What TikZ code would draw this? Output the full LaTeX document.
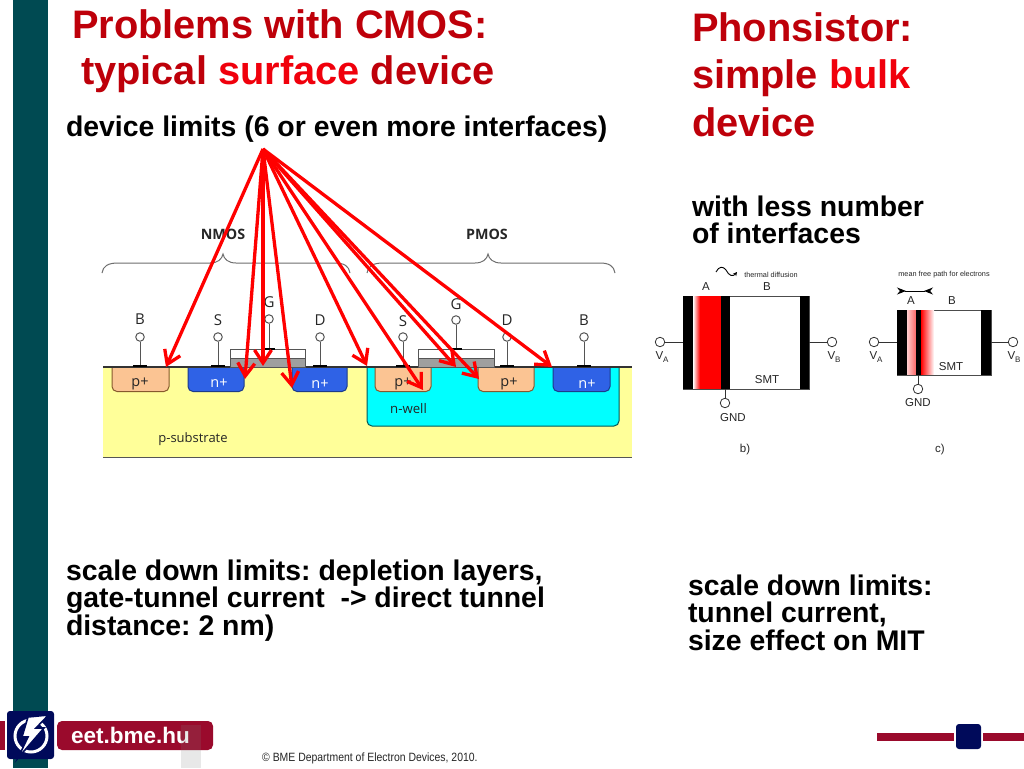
\documentclass[tikz,border=0pt]{standalone}
\usepackage{fontspec}
\setmainfont{Liberation Sans}
\newfontfamily\cmosfont{Open Sans}
\usetikzlibrary{arrows.meta}
\frenchspacing
\definecolor{titlered}{HTML}{BE000A}
\definecolor{hotred}{HTML}{F0000C}
\definecolor{sidebar}{HTML}{004A52}
\definecolor{logonavy}{HTML}{000A5A}
\definecolor{barred}{HTML}{9A0A2C}
\definecolor{substrate}{HTML}{FFFF99}
\definecolor{pplus}{HTML}{FBC493}
\definecolor{nplus}{HTML}{2F62E6}
\definecolor{nwell}{HTML}{00FFFF}
\definecolor{edgegrey}{HTML}{555555}
\newcommand{\pxfont}[1]{\fontsize{#1}{#1}\selectfont}
\newcommand{\lowsub}[1]{\raisebox{-2.4pt}{\pxfont{8}#1}}
\tikzset{
 x=1pt,y=-1pt,
 txt/.style={anchor=base west,inner sep=0pt,outer sep=0pt,align=left},
 titletxt/.style={txt,font=\bfseries\pxfont{39.8},text=titlered},
 bodytxt/.style={txt,font=\bfseries\pxfont{28.4},text=black},
 region/.style={draw=#1,line width=1pt,rounded corners=5pt},
 clabel/.style={inner sep=0pt,font=\cmosfont\pxfont{15},text=black!85},
 rlabel/.style={anchor=base,inner sep=0pt,font=\cmosfont\pxfont{14.5},text=black!85},
 term/.style={circle,draw=edgegrey,fill=white,line width=1pt,minimum size=8.5pt,inner sep=0pt},
 wire/.style={draw=edgegrey,line width=1pt},
 contact/.style={fill=black},
 brace/.style={draw=edgegrey!85,line width=1pt},
 redarrow/.style={draw=red,line width=3.3pt,-{Straight Barb[length=13pt,width=17pt,line width=3.3pt]}},
 dlabel/.style={inner sep=0pt,font=\pxfont{11.5},text=black!85},
 tinylabel/.style={inner sep=0pt,font=\pxfont{7.3},text=black!85},
 dterm/.style={circle,draw=black!80,fill=white,line width=.8pt,minimum size=9.5pt,inner sep=0pt},
 dwire/.style={draw=black!80,line width=.8pt},
}
\begin{document}
\begin{tikzpicture}
\useasboundingbox (0,0) rectangle (1024,768);
\fill[white] (0,0) rectangle (1024,768);
% sidebar
\fill[sidebar] (13,0) rectangle (48,768);
% titles
\node[titletxt] (t1) at (72,38.5) {Problems with CMOS:};
\node[titletxt] (t2) at (81,84) {typical \textcolor{hotred}{surface} device};
\node[bodytxt] (t3) at (66,136) {device limits (6 or even more interfaces)};
\node[titletxt] (r1) at (692,41.5) {Phonsistor:};
\node[titletxt] (r2) at (692,88) {simple \textcolor{hotred}{bulk}};
\node[titletxt] (r3) at (692,136) {device};
\node[bodytxt] (r4) at (692,216) {with less number};
\node[bodytxt] (r5) at (692,243) {of interfaces};
\node[bodytxt] (b1) at (66,580) {scale down limits: depletion layers,};
\node[bodytxt] (b2) at (66,607) {gate-tunnel current\ \ -> direct tunnel};
\node[bodytxt] (b3) at (66,635) {distance: 2 nm)};
\node[bodytxt] (b4) at (688,595) {scale down limits:};
\node[bodytxt] (b5) at (688,622) {tunnel current,};
\node[bodytxt] (b6) at (688,650) {size effect on MIT};
% CMOS cross-section
\fill[substrate] (103,367) rectangle (632,457);
\draw[edgegrey,line width=1.4pt] (103,457.5) -- (632,457.5);
\draw[region=teal!70!black,fill=nwell] (367,367) -- (367,426) -- (619,426) -- (619,367);
\draw[region=brown!70!black,fill=pplus] (112,367) -- (112,391.5) -- (169,391.5) -- (169,367);
\draw[region=nplus!60!black,fill=nplus] (188,367) -- (188,391.5) -- (244,391.5) -- (244,367);
\draw[region=nplus!60!black,fill=nplus] (292,367) -- (292,391.5) -- (347,391.5) -- (347,367);
\draw[region=brown!70!black,fill=pplus] (375,367) -- (375,391.5) -- (431,391.5) -- (431,367);
\draw[region=brown!70!black,fill=pplus] (478,367) -- (478,391.5) -- (534,391.5) -- (534,367);
\draw[region=nplus!60!black,fill=nplus] (553,367) -- (553,391.5) -- (610,391.5) -- (610,367);
\draw[black!80,line width=1.4pt] (103,367) -- (632,367);
% gates
\draw[edgegrey,line width=1pt,fill=white] (230,349.5) rectangle (305,358);
\draw[edgegrey,line width=1pt,fill=gray!75] (230,358) rectangle (305,367);
\draw[edgegrey,line width=1pt,fill=white] (418.5,349.5) rectangle (494,358);
\draw[edgegrey,line width=1pt,fill=gray!75] (418.5,358) rectangle (494,367);
% terminals
\foreach \nm/\xx/\yy/\ly/\tx in {nb/140/337/319/B,ns/218/337/320/S,ng/269/319/302/G,nd/320/337/320/D,ps/403/337/321/S,pg/456/320/304/G,pd/507/337/320/D,pb/584/337/320/B}{
 \node[term] (\nm) at (\xx,\yy) {};
 \node[clabel] (\nm l) at (\xx,\ly) {\tx};
}
\foreach \nm in {nb,ns,nd,ps,pd,pb}{
 \coordinate (\nm c) at (\nm |- 0,365);
 \draw[wire] (\nm) -- (\nm c);
 \fill[contact] ([xshift=-7pt]\nm c) rectangle ([shift={(7pt,-2pt)}]\nm c);
}
\foreach \nm in {ng,pg}{
 \coordinate (\nm c) at (\nm |- 0,348);
 \draw[wire] (\nm) -- (\nm c);
 \fill[contact] ([xshift=-5.5pt]\nm c) rectangle ([shift={(5.5pt,-1.8pt)}]\nm c);
}
% region labels
\node[rlabel,text=white] (npn1) at (219,387) {n+};
\node[rlabel,text=white] (npn2) at (320,388) {n+};
\node[rlabel,text=white] (npn3) at (587,388) {n+};
\node[rlabel] (ppn1) at (140,386) {p+};
\node[rlabel] (ppn2) at (403,386) {p+};
\node[rlabel] (ppn3) at (509,386) {p+};
\node[rlabel,font=\cmosfont\pxfont{13.2}] (well) at (408.5,413) {n-well};
\node[rlabel,font=\cmosfont\pxfont{13}] (subs) at (193,442) {p-substrate};
\node[clabel,font=\cmosfont\bfseries\pxfont{14.3}] (nmos) at (223,234) {NMOS};
\node[clabel,font=\cmosfont\bfseries\pxfont{14.3}] (pmos) at (487,234) {PMOS};
% braces
\draw[brace] (102,273) .. controls (103,266) and (108,263) .. (118,263) -- (210,263) .. controls (218,263) and (222,259) .. (223,254) .. controls (224,259) and (228,263) .. (236,263) -- (335,263) .. controls (344,263) and (349,266) .. (350,273);
\draw[brace] (367,273) .. controls (368,266) and (373,263) .. (383,263) -- (475,263) .. controls (483,263) and (487,259) .. (488,254) .. controls (489,259) and (493,263) .. (501,263) -- (600,263) .. controls (609,263) and (614,266) .. (615,273);
% red arrows
\coordinate (src) at (263,149);
\coordinate (e1) at (166,367);
\coordinate (e2) at (245,379);
\coordinate (e3) at (263,366);
\coordinate (e4) at (292,388);
\coordinate (e5) at (367,366);
\coordinate (e6) at (423,390);
\coordinate (e7) at (456,367);
\coordinate (e8) at (479,379);
\coordinate (e9) at (552,367);
\foreach \i in {1,...,9}{\draw[redarrow] (src) -- (e\i);}
% device b
\draw[black!70,line width=.8pt] (683,296) rectangle (809,389);
\fill[black] (683,296) rectangle (693,389);
\shade[left color=white,right color=red] (693,296.4) rectangle (700,388.6);
\fill[red] (700,296.4) rectangle (721,388.6);
\fill[black] (721,296) rectangle (730,389);
\fill[black] (800,296) rectangle (809,389);
\node[dterm] (bva) at (660,342) {};
\node[dterm] (bvb) at (832,342) {};
\node[dterm] (bgnd) at (725,403) {};
\coordinate (bl) at (683,342);
\coordinate (br) at (809,342);
\coordinate (bg) at (725,389);
\draw[dwire] (bva) -- (bl);
\draw[dwire] (bvb) -- (br);
\draw[dwire] (bgnd) -- (bg);
\node[dlabel] (bA) at (706,287) {A};
\node[dlabel] (bB) at (767,287) {B};
\node[dlabel] (bS) at (767,380) {SMT};
\node[dlabel] (bVA) at (662,357) {V\lowsub{A}};
\node[dlabel] (bVB) at (834,357) {V\lowsub{B}};
\node[dlabel] (bG) at (733,418) {GND};
\node[dlabel] (bcap) at (745,450) {b)};
\node[tinylabel] (btxt) at (771,274.5) {thermal diffusion};
\draw[black,line width=.9pt,-{Stealth[length=4pt,width=4pt]}] (716,272) .. controls (719,266) and (723,266) .. (726,270) .. controls (729,276) and (733,277) .. (737,272);
% device c
\draw[black!70,line width=.8pt] (897,310) rectangle (991,375);
\fill[black] (897,310) rectangle (907,375);
\shade[left color=red!20,right color=red!60] (907,310.4) rectangle (916,374.6);
\fill[black] (916,310) rectangle (921,375);
\shade[left color=red,right color=white] (921,310.4) rectangle (934,374.6);
\fill[black] (981,310) rectangle (991,375);
\node[dterm] (cva) at (874,342) {};
\node[dterm] (cvb) at (1013,342) {};
\node[dterm] (cgnd) at (918,389) {};
\coordinate (cl) at (897,342);
\coordinate (cr) at (991,342);
\coordinate (cg) at (918,375);
\draw[dwire] (cva) -- (cl);
\draw[dwire] (cvb) -- (cr);
\draw[dwire] (cgnd) -- (cg);
\node[dlabel] (cA) at (911,301) {A};
\node[dlabel] (cB) at (952,301) {B};
\node[dlabel] (cS) at (951,367) {SMT};
\node[dlabel] (cVA) at (876,357) {V\lowsub{A}};
\node[dlabel] (cVB) at (1014,357) {V\lowsub{B}};
\node[dlabel] (cG) at (918,403) {GND};
\node[dlabel] (ccap) at (940,450) {c)};
\node[tinylabel] (ctxt) at (944,274.5) {mean free path for electrons};
\coordinate (mfl) at (897,291);
\coordinate (mfr) at (933,291);
\draw[black,line width=.9pt,{Stealth[length=9pt,width=7pt,reversed]}-{Stealth[length=9pt,width=7pt,reversed]}] (mfl) -- (mfr);
% footer
\fill[barred] (0,721) rectangle (5,750);
\fill[barred,rounded corners=5pt] (57,721) rectangle (213,750);
\node[inner sep=0pt,text=white,font=\bfseries\pxfont{22.5}] (site) at (130.5,735.5) {eet.bme.hu};
\fill[gray,opacity=.18] (181,725) rectangle (201,768);
\fill[logonavy,rounded corners=3pt] (7,711) rectangle (54,759);
\draw[white,line width=3pt] (31,736) circle (16);
\fill[white,draw=logonavy,line width=1.6pt] (48.5,715) -- (28,717) -- (22,737) -- (28,737) -- (18,758) -- (44,728) -- (36,728) -- cycle;
\node[inner sep=0pt,anchor=base west,font=\pxfont{12},xscale=.87,transform shape,text=black!85] (copy) at (262,761) {© BME Department of Electron Devices, 2010.};
\fill[barred] (877,733) rectangle (954,741);
\fill[logonavy,rounded corners=3pt] (956,724) rectangle (981,749);
\fill[barred] (983,733) rectangle (1024,741);
\end{tikzpicture}
\end{document}
